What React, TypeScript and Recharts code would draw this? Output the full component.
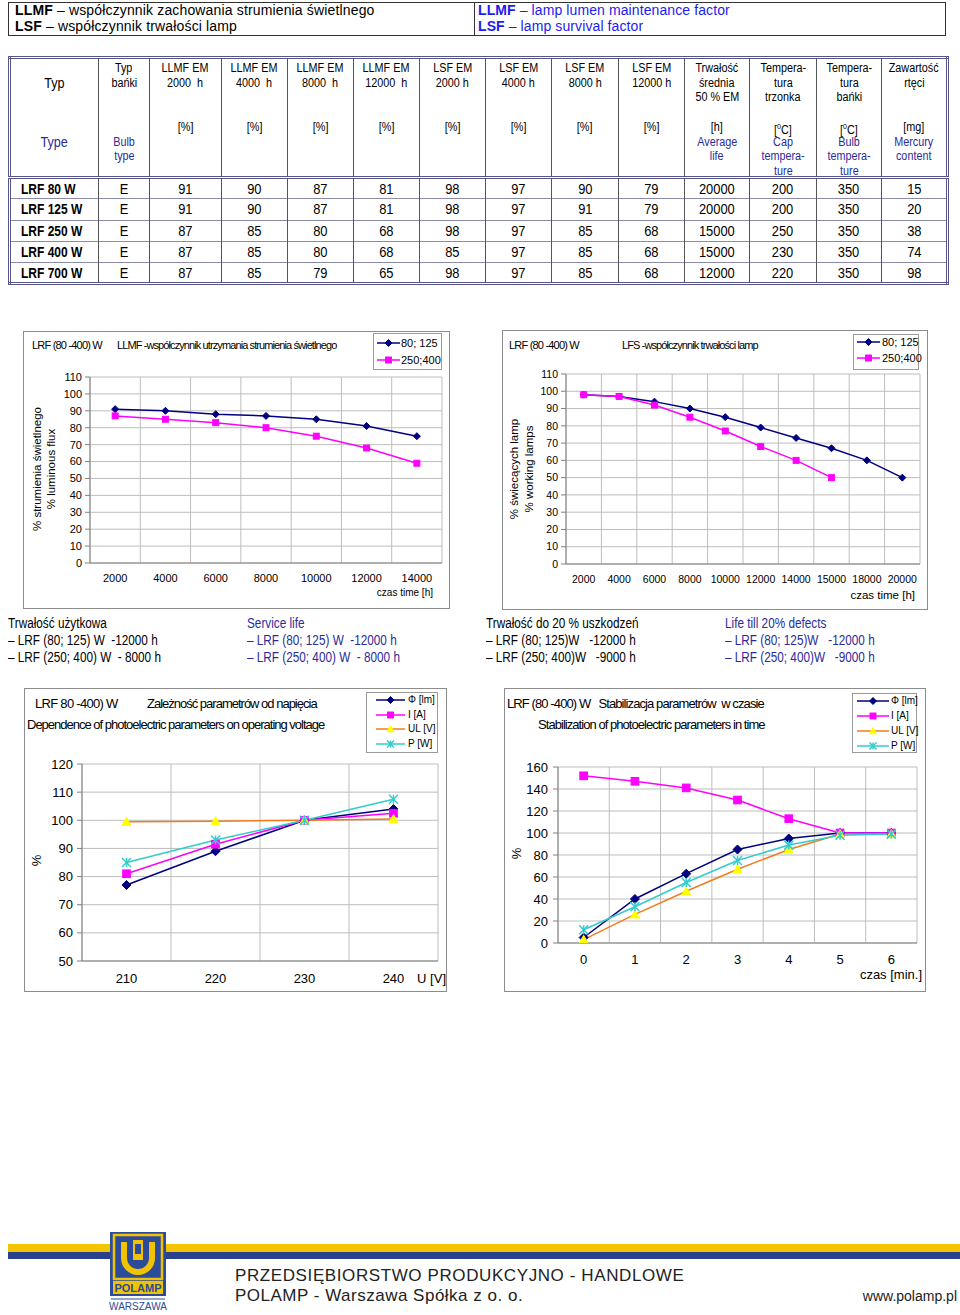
import React from "react";
import { LineChart, Line, XAxis, YAxis, CartesianGrid } from "recharts";

const SANS = "'Liberation Sans', Arial, sans-serif";
const NARROW = "'Liberation Sans Narrow', 'Arial Narrow', 'Liberation Sans', Arial, sans-serif";

const NAVY = "#000080";
const MAGENTA = "#ff00ff";
const ORANGE = "#f07c1e";
const YELLOW = "#ffff00";
const CYAN = "#33cccc";
const EN_BLUE = "#2b2b9b";

// ---- table data ----
const lampTypes = ["LRF 80 W", "LRF 125 W", "LRF 250 W", "LRF 400 W", "LRF 700 W"];
const bulbTypes = ["E", "E", "E", "E", "E"];
const llmf2000 = [91, 91, 87, 87, 87];
const llmf4000 = [90, 90, 85, 85, 85];
const llmf8000 = [87, 87, 80, 80, 79];
const llmf12000 = [81, 81, 68, 68, 65];
const lsf2000 = [98, 98, 98, 85, 98];
const lsf4000 = [97, 97, 97, 97, 97];
const lsf8000 = [90, 91, 85, 85, 85];
const lsf12000 = [79, 79, 68, 68, 68];
const avgLife = [20000, 20000, 15000, 15000, 12000];
const capTemp = [200, 200, 250, 230, 220];
const bulbTemp = [350, 350, 350, 350, 350];
const mercury = [15, 20, 38, 74, 98];

// ---- chart 1: LLMF ----
const llmfHours = ["2000", "4000", "6000", "8000", "10000", "12000", "14000"];
const llmfSmall = [91, 90, 88, 87, 85, 81, 75];
const llmfLarge = [87, 85, 83, 80, 75, 68, 59];
const pctTicks110 = [0, 10, 20, 30, 40, 50, 60, 70, 80, 90, 100, 110];

// ---- chart 2: LSF ----
const lsfHours = ["2000", "4000", "6000", "8000", "10000", "12000", "14000", "15000", "18000", "20000"];
const lsfSmall = [98, 97, 94, 90, 85, 79, 73, 67, 60, 50];
const lsfLarge = [98, 97, 92, 85, 77, 68, 60, 50, null, null];

// ---- chart 3: voltage dependence ----
const voltages = ["210", "220", "230", "240"];
const voltFlux = [77, 89, 100, 104];
const voltCurrent = [81, 91.5, 100, 102.5];
const voltLampV = [99.5, 99.7, 100, 100.5];
const voltPower = [85, 93, 100, 107.5];
const voltTicks = [50, 60, 70, 80, 90, 100, 110, 120];

// ---- chart 4: stabilisation ----
const minutes = ["0", "1", "2", "3", "4", "5", "6"];
const stabFlux = [5, 40, 63, 85, 95, 100, 100];
const stabCurrent = [152, 147, 141, 130, 113, 100, 100];
const stabLampV = [3, 26, 47, 67, 85, 99, 99];
const stabPower = [12, 33, 55, 75, 89, 98, 99];
const stabTicks = [0, 20, 40, 60, 80, 100, 120, 140, 160];

type MarkerKind = "diamond" | "square" | "triangle" | "star";

interface SeriesDef {
  name: string;
  color: string;
  fill: string;
  marker: MarkerKind;
  values: (number | null)[];
}

interface Rect {
  l: number;
  t: number;
  r: number;
  b: number;
}

function Marker({ kind, cx, cy, color, fill, s }: { kind: MarkerKind; cx: number; cy: number; color: string; fill: string; s: number }) {
  if (kind === "diamond")
    return <polygon points={`${cx},${cy - s} ${cx + s},${cy} ${cx},${cy + s} ${cx - s},${cy}`} fill={fill} stroke={color} strokeWidth={1} />;
  if (kind === "square") return <rect x={cx - s} y={cy - s} width={2 * s} height={2 * s} fill={fill} stroke={color} strokeWidth={1} />;
  if (kind === "triangle")
    return <polygon points={`${cx},${cy - s} ${cx + s},${cy + s * 0.8} ${cx - s},${cy + s * 0.8}`} fill={fill} stroke={fill} strokeWidth={1} />;
  return (
    <g stroke={color} strokeWidth={1.5}>
      <line x1={cx - s} y1={cy - s} x2={cx + s} y2={cy + s} />
      <line x1={cx - s} y1={cy + s} x2={cx + s} y2={cy - s} />
      <line x1={cx} y1={cy - s} x2={cx} y2={cy + s} />
    </g>
  );
}

function T({ x, y, size = 12, color = "#000", anchor = "start", bold = false, family = SANS, ls = 0, children }: any) {
  const tx = anchor === "end" ? "-100%" : anchor === "middle" ? "-50%" : "0";
  return (
    <div
      style={{
        position: "absolute",
        left: x,
        top: y,
        transform: `translate(${tx}, -50%)`,
        fontSize: size,
        lineHeight: 1.15,
        color,
        fontWeight: bold ? 700 : 400,
        fontFamily: family,
        letterSpacing: ls,
        whiteSpace: "pre",
      }}
    >
      {children}
    </div>
  );
}

function ExcelLineChart({
  frame,
  plot,
  categories,
  series,
  yTicks,
  fontSize,
  xMargin,
  yMargin,
  ms,
}: {
  frame: Rect;
  plot: Rect;
  categories: string[];
  series: SeriesDef[];
  yTicks: number[];
  fontSize: number;
  xMargin: number;
  yMargin: number;
  ms: number;
}) {
  const w = frame.r - frame.l;
  const h = frame.b - frame.t;
  const n = categories.length;
  const data = categories.map((c, i) => {
    const row: Record<string, number | string | null> = { i: i + 1, cat: c };
    series.forEach((s, k) => (row["s" + k] = s.values[i]));
    return row;
  });
  const domain: [number, number] = [0.5, n + 0.5];
  const centers = categories.map((_, i) => i + 1);
  const edges = Array.from({ length: n + 1 }, (_, i) => i + 0.5);
  const xH = 30;
  return (
    <div style={{ position: "absolute", left: frame.l, top: frame.t, width: w, height: h, fontFamily: SANS }}>
      <div style={{ position: "absolute", inset: 0, border: "1px solid #8c8c8c", boxSizing: "border-box" }} />
      <div style={{ position: "absolute", left: 0, top: 0 }}>
        <LineChart
          width={w}
          height={h}
          data={data}
          margin={{ top: plot.t - frame.t, right: frame.r - plot.r, left: 0, bottom: frame.b - plot.b - xH }}
        >
          <CartesianGrid xAxisId="edge" stroke="#bdbdbd" strokeWidth={1} />
          <XAxis
            xAxisId="edge"
            dataKey="i"
            type="number"
            domain={domain}
            ticks={edges}
            allowDataOverflow
            height={0}
            axisLine={false}
            tickLine={{ stroke: "#808080" }}
            tickSize={5}
            tick={{ fontSize: 1, fill: "none" }}
            tickFormatter={() => ""}
            interval={0}
          />
          <XAxis
            xAxisId="main"
            dataKey="i"
            type="number"
            domain={domain}
            ticks={centers}
            allowDataOverflow
            height={xH}
            axisLine={{ stroke: "#808080" }}
            tickLine={false}
            tickSize={6}
            tickMargin={xMargin}
            tick={{ fontSize, fill: "#000" }}
            tickFormatter={(v: number) => categories[v - 1] ?? ""}
            interval={0}
          />
          <YAxis
            type="number"
            domain={[yTicks[0], yTicks[yTicks.length - 1]]}
            ticks={yTicks}
            allowDataOverflow
            width={plot.l - frame.l}
            axisLine={{ stroke: "#808080" }}
            tickLine={{ stroke: "#808080" }}
            tickSize={5}
            tickMargin={yMargin}
            tick={{ fontSize, fill: "#000" }}
            interval={0}
          />
          {series.map((s, k) => (
            <Line
              key={s.name}
              xAxisId="main"
              type="linear"
              dataKey={"s" + k}
              stroke={s.color}
              strokeWidth={1.5}
              isAnimationActive={false}
              activeDot={false}
              dot={(p: any) =>
                p.value == null || p.cy == null ? (
                  <g key={"d" + k + "-" + p.index} />
                ) : (
                  <g key={"d" + k + "-" + p.index}>
                    <Marker kind={s.marker} cx={p.cx} cy={p.cy} color={s.color} fill={s.fill} s={s.marker === "square" ? ms * 0.85 : ms} />
                  </g>
                )
              }
            />
          ))}
        </LineChart>
      </div>
    </div>
  );
}

function LegendBox({ box, rows, lineX, textX, size, series, ms }: { box: Rect; rows: number[]; lineX: [number, number]; textX: number; size: number; series: SeriesDef[]; ms: number }) {
  return (
    <>
      <div
        style={{
          position: "absolute",
          left: box.l,
          top: box.t,
          width: box.r - box.l,
          height: box.b - box.t,
          border: "1px solid #9a9a9a",
          boxSizing: "border-box",
          background: "#fff",
        }}
      />
      {series.map((s, k) => (
        <React.Fragment key={s.name}>
          <svg style={{ position: "absolute", left: lineX[0], top: rows[k] - 6 }} width={lineX[1] - lineX[0]} height={12}>
            <line x1={0} y1={6} x2={lineX[1] - lineX[0]} y2={6} stroke={s.color} strokeWidth={1.5} />
            <Marker kind={s.marker} cx={(lineX[1] - lineX[0]) / 2} cy={6} color={s.color} fill={s.fill} s={s.marker === "square" ? ms * 0.85 : ms} />
          </svg>
          <T x={textX} y={rows[k]} size={size}>
            {s.name}
          </T>
        </React.Fragment>
      ))}
    </>
  );
}

function RotLabel({ cx, cy, lines, size, lh }: { cx: number; cy: number; lines: string[]; size: number; lh: number }) {
  const h = lines.length * lh;
  return (
    <div
      style={{
        position: "absolute",
        left: cx - 100,
        top: cy - h / 2,
        width: 200,
        height: h,
        transform: "rotate(-90deg)",
        textAlign: "center",
        fontSize: size,
        lineHeight: lh + "px",
        fontFamily: SANS,
        whiteSpace: "pre",
      }}
    >
      {lines.map((l) => (
        <div key={l}>{l}</div>
      ))}
    </div>
  );
}

interface HeadCell {
  pl: string[];
  unit: React.ReactNode;
  en: string[];
}

const degC = (
  <>
    [<sup style={{ fontSize: "0.65em" }}>0</sup>C]
  </>
);

const headCells: HeadCell[] = [
  { pl: ["", "Typ"], unit: "", en: ["Type"] },
  { pl: ["Typ", "bańki"], unit: "", en: ["Bulb", "type"] },
  { pl: ["LLMF EM", "2000  h"], unit: "[%]", en: [] },
  { pl: ["LLMF EM", "4000  h"], unit: "[%]", en: [] },
  { pl: ["LLMF EM", "8000  h"], unit: "[%]", en: [] },
  { pl: ["LLMF EM", "12000  h"], unit: "[%]", en: [] },
  { pl: ["LSF EM", "2000 h"], unit: "[%]", en: [] },
  { pl: ["LSF EM", "4000 h"], unit: "[%]", en: [] },
  { pl: ["LSF EM", "8000 h"], unit: "[%]", en: [] },
  { pl: ["LSF EM", "12000 h"], unit: "[%]", en: [] },
  { pl: ["Trwałość", "średnia", "50 % EM"], unit: "[h]", en: ["Average", "life"] },
  { pl: ["Tempera-", "tura", "trzonka"], unit: degC, en: ["Cap", "tempera-", "ture"] },
  { pl: ["Tempera-", "tura", "bańki"], unit: degC, en: ["Bulb", "tempera-", "ture"] },
  { pl: ["Zawartość", "rtęci"], unit: "[mg]", en: ["Mercury", "content"] },
];

const colWidths = [89, 51, 72, 66, 66, 66, 66, 66, 67, 66, 65, 67, 65, 66];

function Squeeze({ children, k = 0.85, origin = "center" }: any) {
  return <span style={{ display: "inline-block", transform: `scaleX(${k})`, transformOrigin: origin }}>{children}</span>;
}

function LampTable() {
  const cols = [lampTypes, bulbTypes, llmf2000, llmf4000, llmf8000, llmf12000, lsf2000, lsf4000, lsf8000, lsf12000, avgLife, capTemp, bulbTemp, mercury];
  const frameC = "#55558a";
  return (
    <table
      style={{
        position: "absolute",
        left: 8,
        top: 56,
        width: 938,
        borderCollapse: "collapse",
        tableLayout: "fixed",
        border: `3px double ${frameC}`,
        fontFamily: NARROW,
      }}
    >
      <colgroup>
        {colWidths.map((w, i) => (
          <col key={i} style={{ width: w }} />
        ))}
      </colgroup>
      <tbody>
        <tr style={{ height: 119, borderBottom: `3px double ${frameC}` }}>
          {headCells.map((c, i) => (
            <td key={i} style={{ borderLeft: "1px solid #555", padding: 0, verticalAlign: "top" }}>
              <div style={{ position: "relative", height: 117, fontSize: i === 0 ? 14 : 12, lineHeight: "14.5px", textAlign: "center" }}>
                <div style={{ position: "absolute", left: 0, right: 0, top: 2 }}>
                  {c.pl.map((l, k) => (
                    <div key={k} style={{ height: 14.5, whiteSpace: "pre" }}>
                      <Squeeze k={0.9}>{l}</Squeeze>
                    </div>
                  ))}
                </div>
                <div style={{ position: "absolute", left: 0, right: 0, top: 61 }}>
                  <div style={{ height: 14.5 }}>
                    <Squeeze k={0.9}>{c.unit}</Squeeze>
                  </div>
                  {c.en.map((l, k) => (
                    <div key={k} style={{ height: 14.5, color: EN_BLUE }}>
                      <Squeeze k={0.9}>{l}</Squeeze>
                    </div>
                  ))}
                </div>
              </div>
            </td>
          ))}
        </tr>
        {lampTypes.map((_, r) => (
          <tr key={r} style={{ height: 21.3, borderTop: r > 0 ? "1px solid #8a8aaa" : undefined }}>
            {cols.map((col, c) => (
              <td
                key={c}
                style={{
                  borderLeft: "1px solid #555",
                  padding: c === 0 ? "0 0 0 10px" : 0,
                  textAlign: c === 0 ? "left" : "center",
                  fontSize: 15,
                  fontWeight: c === 0 ? 700 : 400,
                  lineHeight: "18px",
                  whiteSpace: "nowrap",
                  verticalAlign: "middle",
                }}
              >
                <Squeeze k={c === 0 ? 0.8 : 0.86} origin={c === 0 ? "left" : "center"}>
                  {col[r]}
                </Squeeze>
              </td>
            ))}
          </tr>
        ))}
      </tbody>
    </table>
  );
}

function Logo() {
  return (
    <svg style={{ position: "absolute", left: 108, top: 1230 }} width={62} height={85}>
      <rect x={2} y={2} width={56} height={64} fill="#2b4b9b" />
      <rect x={6} y={5} width={48} height={44} fill="none" stroke="#f2c200" strokeWidth={2.5} />
      <path d="M16 12 L16 28 A14 14 0 0 0 44 28 L44 12" fill="none" stroke="#f2c200" strokeWidth={6} />
      <rect x={25} y={10} width={10} height={20} fill="#f2c200" />
      <rect x={27} y={14} width={6} height={10} fill="#2b4b9b" />
      <rect x={5} y={51} width={50} height={13} fill="#f2c200" />
      <text x={30} y={61.5} textAnchor="middle" fontSize={11} fontWeight={700} fill="#2b4b9b" fontFamily={NARROW}>
        POLAMP
      </text>
      <line x1={3} y1={69} x2={57} y2={69} stroke="#2b4b9b" strokeWidth={1} />
      <text x={30} y={80} textAnchor="middle" fontSize={10} fill="#2b4b9b" fontFamily={NARROW}>
        WARSZAWA
      </text>
    </svg>
  );
}

function Notes({ x, color, lines }: { x: number; color: string; lines: string[] }) {
  return (
    <div
      style={{
        position: "absolute",
        left: x,
        top: 615,
        fontFamily: SANS,
        fontSize: 14,
        lineHeight: "17px",
        whiteSpace: "pre",
        color,
        transform: "scaleX(0.84)",
        transformOrigin: "left top",
      }}
    >
      {lines.map((l) => (
        <div key={l}>{l}</div>
      ))}
    </div>
  );
}

export default function App() {
  const twoSeries = (a: (number | null)[], b: (number | null)[]): SeriesDef[] => [
    { name: "80; 125", color: NAVY, fill: NAVY, marker: "diamond", values: a },
    { name: "250;400", color: MAGENTA, fill: MAGENTA, marker: "square", values: b },
  ];
  const fourSeries = (phi: number[], cur: number[], ul: number[], pw: number[]): SeriesDef[] => [
    { name: "Φ [lm]", color: NAVY, fill: NAVY, marker: "diamond", values: phi },
    { name: "I [A]", color: MAGENTA, fill: MAGENTA, marker: "square", values: cur },
    { name: "UL [V]", color: ORANGE, fill: YELLOW, marker: "triangle", values: ul },
    { name: "P [W]", color: CYAN, fill: CYAN, marker: "star", values: pw },
  ];
  const llmfSeries = twoSeries(llmfSmall, llmfLarge);
  const lsfSeries = twoSeries(lsfSmall, lsfLarge);
  const voltSeries = fourSeries(voltFlux, voltCurrent, voltLampV, voltPower);
  const stabSeries = fourSeries(stabFlux, stabCurrent, stabLampV, stabPower);

  return (
    <div style={{ position: "absolute", left: 0, top: 0, width: 960, height: 1315, background: "#fff", fontFamily: SANS, overflow: "hidden" }}>
      {/* header definitions */}
      <div style={{ position: "absolute", left: 8, top: 2, width: 938, height: 34, border: "1px solid #333", boxSizing: "border-box" }} />
      <div style={{ position: "absolute", left: 474, top: 2, width: 1, height: 34, background: "#333" }} />
      <T x={15} y={10} size={14} ls={0.15}>
        <b>LLMF</b> – współczynnik zachowania strumienia świetlnego
      </T>
      <T x={15} y={26} size={14} ls={0.15}>
        <b>LSF</b> – współczynnik trwałości lamp
      </T>
      <T x={478} y={10} size={14} color="#1c1cf0" ls={0.1}>
        <b>LLMF</b> – lamp lumen maintenance factor
      </T>
      <T x={478} y={26} size={14} color="#1c1cf0" ls={0.1}>
        <b>LSF</b> – lamp survival factor
      </T>

      <LampTable />

      {/* chart 1: LLMF */}
      <ExcelLineChart
        frame={{ l: 23, t: 331, r: 450, b: 609 }}
        plot={{ l: 90, t: 377, r: 442, b: 563 }}
        categories={llmfHours}
        series={llmfSeries}
        yTicks={pctTicks110}
        fontSize={11}
        xMargin={5}
        yMargin={3}
        ms={3.5}
      />
      <T x={32} y={345} size={11} ls={-0.8}>
        LRF (80 -400) W
      </T>
      <T x={117} y={345} size={11} ls={-0.9}>
        LLMF -współczynnik utrzymania strumienia świetlnego
      </T>
      <LegendBox box={{ l: 373, t: 333, r: 442, b: 370 }} rows={[343, 360]} lineX={[377, 400]} textX={401} size={11} series={llmfSeries} ms={3.5} />
      <RotLabel cx={44} cy={469} lines={["% strumienia świetlnego", "% luminous flux"]} size={11.5} lh={14} />
      <T x={433} y={593} size={10} anchor="end">
        czas time [h]
      </T>

      {/* chart 2: LSF */}
      <ExcelLineChart
        frame={{ l: 502, t: 330, r: 928, b: 610 }}
        plot={{ l: 566, t: 374, r: 920, b: 564 }}
        categories={lsfHours}
        series={lsfSeries}
        yTicks={pctTicks110}
        fontSize={10.5}
        xMargin={6}
        yMargin={3}
        ms={3.5}
      />
      <T x={509} y={345} size={11} ls={-0.8}>
        LRF (80 -400) W
      </T>
      <T x={622} y={345} size={11} ls={-0.9}>
        LFS -współczynnik trwałości lamp
      </T>
      <LegendBox box={{ l: 853, t: 334, r: 919, b: 370 }} rows={[342, 358]} lineX={[857, 880]} textX={882} size={11} series={lsfSeries} ms={3.5} />
      <RotLabel cx={522} cy={469} lines={["% świecących lamp", "% working lamps"]} size={11.5} lh={15} />
      <T x={915} y={596} size={11.5} anchor="end">
        czas time [h]
      </T>

      {/* service life notes */}
      <Notes x={8} color="#000" lines={["Trwałość użytkowa", "– LRF (80; 125) W  -12000 h", "– LRF (250; 400) W  - 8000 h"]} />
      <Notes x={247} color={EN_BLUE} lines={["Service life", "– LRF (80; 125) W  -12000 h", "– LRF (250; 400) W  - 8000 h"]} />
      <Notes x={486} color="#000" lines={["Trwałość do 20 % uszkodzeń", "– LRF (80; 125)W   -12000 h", "– LRF (250; 400)W   -9000 h"]} />
      <Notes x={725} color={EN_BLUE} lines={["Life till 20% defects", "– LRF (80; 125)W   -12000 h", "– LRF (250; 400)W   -9000 h"]} />

      {/* chart 3: voltage dependence */}
      <ExcelLineChart
        frame={{ l: 24, t: 688, r: 447, b: 992 }}
        plot={{ l: 82, t: 764, r: 438, b: 961 }}
        categories={voltages}
        series={voltSeries}
        yTicks={voltTicks}
        fontSize={13}
        xMargin={7}
        yMargin={4}
        ms={4.5}
      />
      <T x={35} y={704} size={13} ls={-0.7}>
        LRF 80 -400) W
      </T>
      <T x={147} y={704} size={13} ls={-1}>
        Zależność parametrów od napięcia
      </T>
      <T x={27} y={725} size={13} ls={-1}>
        Dependence of photoelectric parameters on operating voltage
      </T>
      <LegendBox box={{ l: 366, t: 692, r: 438, b: 753 }} rows={[700, 715, 729, 744]} lineX={[376, 405]} textX={408} size={10} series={voltSeries} ms={3.5} />
      <RotLabel cx={36} cy={860} lines={["%"]} size={13} lh={15} />
      <T x={446} y={979} size={13} anchor="end">
        U [V]
      </T>

      {/* chart 4: stabilisation in time */}
      <ExcelLineChart
        frame={{ l: 504, t: 688, r: 926, b: 992 }}
        plot={{ l: 558, t: 767, r: 917, b: 943 }}
        categories={minutes}
        series={stabSeries}
        yTicks={stabTicks}
        fontSize={13}
        xMargin={6}
        yMargin={5}
        ms={4.5}
      />
      <T x={507} y={704} size={13} ls={-0.9}>
        LRF (80 -400) W   Stabilizacja parametrów  w czasie
      </T>
      <T x={538} y={725} size={13} ls={-0.95}>
        Stabilization of photoelectric parameters in time
      </T>
      <LegendBox box={{ l: 852, t: 693, r: 917, b: 753 }} rows={[701, 716, 731, 746]} lineX={[857, 889]} textX={891} size={10} series={stabSeries} ms={3.5} />
      <RotLabel cx={516} cy={853} lines={["%"]} size={13} lh={15} />
      <T x={922} y={975} size={13} anchor="end">
        czas [min.]
      </T>

      {/* footer */}
      <div style={{ position: "absolute", left: 8, top: 1244, width: 952, height: 8, background: "#f2c500" }} />
      <div style={{ position: "absolute", left: 8, top: 1252, width: 952, height: 7, background: "#2a4190" }} />
      <Logo />
      <T x={235} y={1276} size={17} color="#222" ls={0.6}>
        PRZEDSIĘBIORSTWO PRODUKCYJNO - HANDLOWE
      </T>
      <T x={235} y={1296} size={17} color="#222" ls={0.5}>
        POLAMP - Warszawa Spółka z o. o.
      </T>
      <T x={957} y={1296} size={14} color="#222" anchor="end">
        www.polamp.pl
      </T>
    </div>
  );
}
